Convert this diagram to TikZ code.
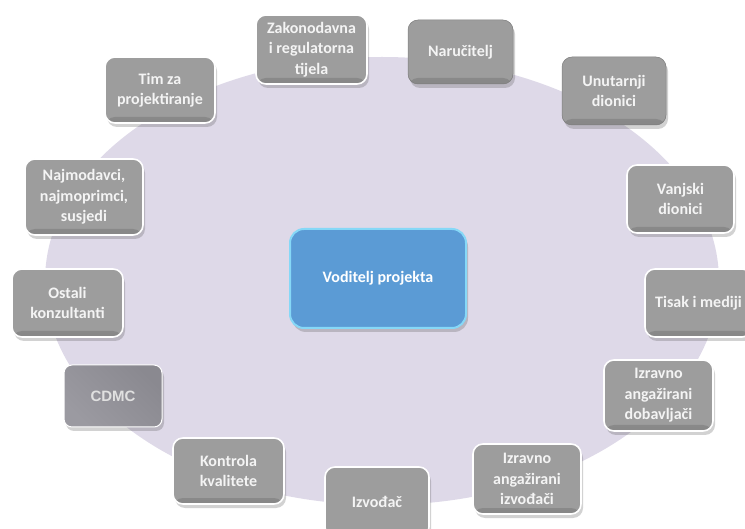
\documentclass[tikz,border=0pt]{standalone}
\usepackage{fontspec}
\setmainfont{Carlito}
\newfontfamily\arialfont{Liberation Sans}
\usetikzlibrary{shadows}
\definecolor{lav}{HTML}{DED9E8}
\definecolor{boxgray}{HTML}{9D9D9D}
\definecolor{boxdark}{HTML}{878787}
\definecolor{boxtxt}{HTML}{F4F4F4}
\definecolor{pmblue}{HTML}{5B9BD5}
\definecolor{pmglow}{HTML}{86D8F7}
\definecolor{cdmcA}{HTML}{9B9AA1}
\definecolor{cdmcB}{HTML}{8A8990}
\begin{document}
\begin{tikzpicture}[x=1pt,y=-1pt,
  boxbase/.style={rounded corners=10pt, inner sep=0pt, align=center,
    font=\bfseries\fontsize{16}{20.5}\selectfont,
    drop shadow={shadow xshift=2pt, shadow yshift=-4pt, opacity=.25, fill=black!70}},
  gbox/.style 2 args={boxbase, fill=boxgray, draw=white, line width=1.6pt, text=boxtxt,
    minimum width=#1pt, minimum height=#2pt,
    path picture={\shade[top color=boxgray, bottom color=boxdark]
      ([yshift=6pt]path picture bounding box.south west) rectangle (path picture bounding box.south east);}},
  plainbox/.style={draw=boxgray!80!black, line width=0.5pt},
  pmbox/.style={boxbase, fill=pmblue, draw=pmglow, line width=2pt, text=white,
    minimum width=176pt, minimum height=99pt, rounded corners=14pt},
  cdmcbox/.style={boxbase, draw=white, line width=1pt, text=white!88!black,
    minimum width=98pt, minimum height=62pt, rounded corners=8pt,
    left color=cdmcA, right color=cdmcB, shading angle=135,
    font=\arialfont\bfseries\fontsize{15}{18}\selectfont}
]
\useasboundingbox (0,0) rectangle (745,529);
\clip (0,0) rectangle (745,529);
\fill[lav] (382,281) ellipse [x radius=337pt, y radius=224pt];

\node[pmbox] (pm) at (378,278.5) {Voditelj projekta};

\node[gbox={111}{69}] (zak) at (311.5,49.5) {Zakonodavna\\i regulatorna\\tijela};
\node[gbox={105}{64}, plainbox] (nar) at (460.5,52) {Naručitelj};
\node[gbox={104}{68}, plainbox] (unu) at (614,91) {Unutarnji\\dionici};
\node[gbox={107}{68}] (vanj) at (680.5,199) {Vanjski\\dionici};
\node[gbox={107}{68}] (tisak) at (698.5,303) {Tisak i mediji};
\node[gbox={109}{71}] (dob) at (658.5,395.5) {Izravno\\angažirani\\dobavljači};
\node[gbox={108}{70}] (izv2) at (527,479) {Izravno\\angažirani\\izvođači};
\node[gbox={104}{70}] (izv) at (377,502) {Izvođač};
\node[gbox={111}{66}] (kon) at (228.5,471) {Kontrola\\kvalitete};
\node[cdmcbox] (cdmc) at (113,396) {CDMC};
\node[gbox={111}{68}] (ost) at (67.5,303) {Ostali\\konzultanti};
\node[gbox={118}{76}] (naj) at (84,197) {Najmodavci,\\najmoprimci,\\susjedi};
\node[gbox={110}{66}] (tim) at (160,90) {Tim za\\projektiranje};
\end{tikzpicture}
\end{document}
